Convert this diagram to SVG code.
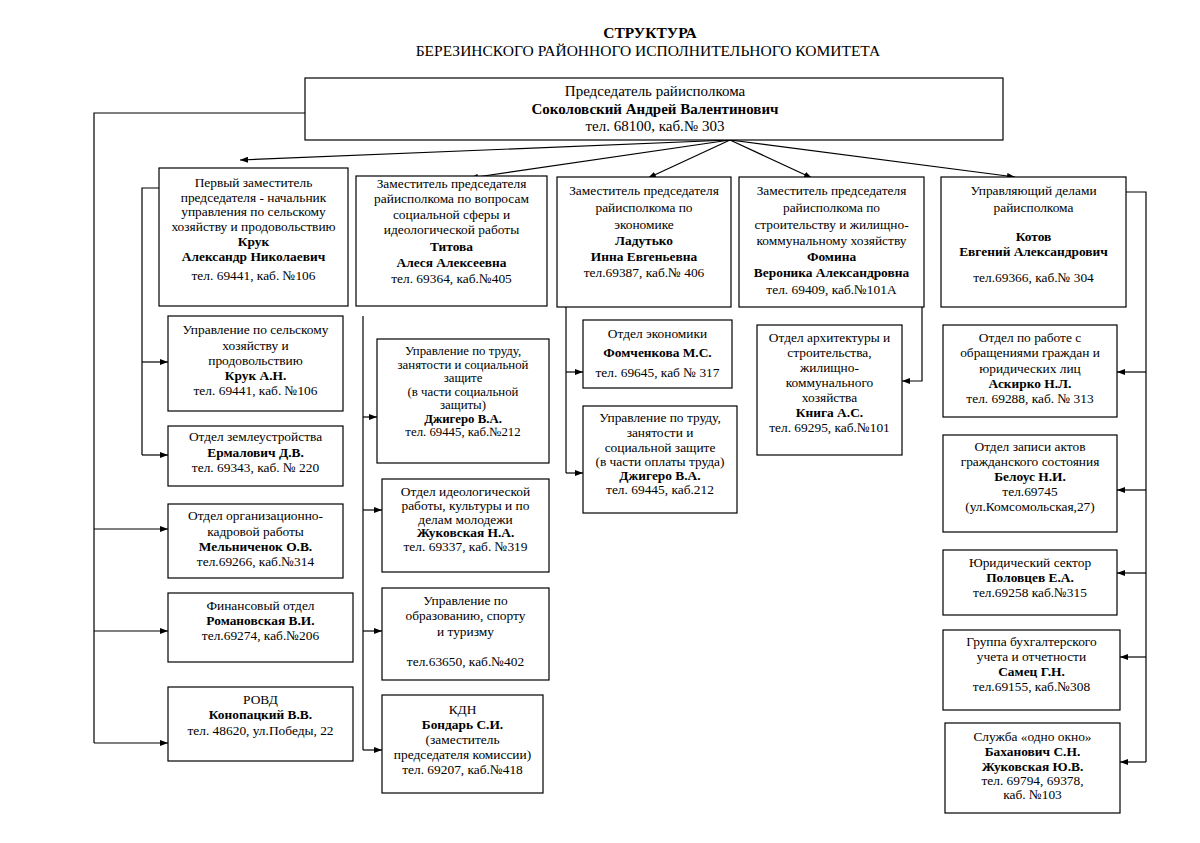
<svg xmlns="http://www.w3.org/2000/svg" width="1200" height="843" viewBox="0 0 1200 843">
<defs>
<marker id="ah" markerUnits="userSpaceOnUse" markerWidth="8" markerHeight="6" refX="8" refY="3" orient="auto">
<path d="M0,0 L8,3 L0,6 z" fill="#000"/>
</marker>
<style>
text{font-family:"Liberation Serif","Times New Roman",serif;font-size:13.4px;fill:#000;text-anchor:middle}
.b{font-weight:bold}
.h{font-size:15px}
.tt{font-size:15.5px}
.sm{font-size:12.8px}
rect{fill:#fff;stroke:#000;stroke-width:1.2}
.c line,.c polyline{stroke:#000;stroke-width:1.2;fill:none}
.a{marker-end:url(#ah)}
</style>
</defs>
<rect x="0" y="0" width="1200" height="843" style="stroke:none"/>
<g id="title">
<text x="650" y="38" class="b tt">СТРУКТУРА</text>
<text x="648" y="56" class="tt">БЕРЕЗИНСКОГО РАЙОННОГО ИСПОЛНИТЕЛЬНОГО КОМИТЕТА</text>
</g>
<g class="c" id="connectors">
<polyline points="305,113 94,113 94,743"/>
<line class="a" x1="94" y1="529" x2="168" y2="529"/>
<line class="a" x1="94" y1="631" x2="168" y2="631"/>
<line class="a" x1="94" y1="743" x2="168" y2="743"/>
<line class="a" x1="730" y1="140" x2="240" y2="160"/>
<line class="a" x1="730" y1="140" x2="470" y2="178"/>
<line class="a" x1="730" y1="140" x2="648" y2="178"/>
<line class="a" x1="730" y1="140" x2="812" y2="178"/>
<line class="a" x1="730" y1="140" x2="1015" y2="177"/>
<polyline points="159,188 142,188 142,455"/>
<line class="a" x1="142" y1="362" x2="168" y2="362"/>
<line class="a" x1="142" y1="455" x2="168" y2="455"/>
<line x1="363" y1="316" x2="363" y2="750"/>
<line class="a" x1="363" y1="417" x2="377" y2="417"/>
<line class="a" x1="363" y1="510" x2="382" y2="510"/>
<line class="a" x1="363" y1="631" x2="382" y2="631"/>
<line class="a" x1="363" y1="750" x2="382" y2="750"/>
<line x1="566" y1="307" x2="566" y2="473"/>
<line class="a" x1="566" y1="372" x2="583" y2="372"/>
<line class="a" x1="566" y1="473" x2="583" y2="473"/>
<polyline class="a" points="922,307 922,381 902,381"/>
<polyline points="1126,192 1146,192 1146,762"/>
<line class="a" x1="1146" y1="372" x2="1117" y2="372"/>
<line class="a" x1="1146" y1="490" x2="1117" y2="490"/>
<line class="a" x1="1146" y1="573" x2="1117" y2="573"/>
<line class="a" x1="1146" y1="657" x2="1120" y2="657"/>
<line class="a" x1="1146" y1="762" x2="1120" y2="762"/>
</g>
<g id="chair">
<rect x="305" y="78" width="698" height="62"/>
<text x="655" y="96" class="h">Председатель райисполкома</text>
<text x="655" y="114" class="b h">Соколовский Андрей Валентинович</text>
<text x="655" y="131" class="h">тел. 68100, каб.№ 303</text>
</g>
<g id="dep1">
<rect x="159" y="168" width="189" height="138"/>
<text x="253.5" y="187">Первый заместитель</text>
<text x="253.5" y="202">председателя -  начальник</text>
<text x="253.5" y="216">управления по  сельскому</text>
<text x="253.5" y="231">хозяйству и продовольствию</text>
<text x="253.5" y="246" class="b">Крук</text>
<text x="253.5" y="261" class="b">Александр Николаевич</text>
<text x="253.5" y="280">тел. 69441, каб. №106</text>
</g>
<g id="dep2">
<rect x="356" y="176" width="191" height="130"/>
<text x="451.5" y="188">Заместитель председателя</text>
<text x="451.5" y="203">райисполкома по вопросам</text>
<text x="451.5" y="219">социальной сферы и</text>
<text x="451.5" y="234">идеологической работы</text>
<text x="451.5" y="251" class="b">Титова</text>
<text x="451.5" y="267" class="b">Алеся Алексеевна</text>
<text x="451.5" y="283">тел. 69364, каб.№405</text>
</g>
<g id="dep3">
<rect x="557" y="177" width="174" height="130"/>
<text x="644" y="195">Заместитель председателя</text>
<text x="644" y="212">райисполкома по</text>
<text x="644" y="229">экономике</text>
<text x="644" y="245" class="b">Ладутько</text>
<text x="644" y="261" class="b">Инна Евгеньевна</text>
<text x="644" y="277">тел.69387, каб.№ 406</text>
</g>
<g id="dep4">
<rect x="739" y="177" width="185" height="130"/>
<text x="831.5" y="195">Заместитель председателя</text>
<text x="831.5" y="212">райисполкома по</text>
<text x="831.5" y="229">строительству и  жилищно-</text>
<text x="831.5" y="245">коммунальному хозяйству</text>
<text x="831.5" y="261" class="b">Фомина</text>
<text x="831.5" y="277" class="b">Вероника Александровна</text>
<text x="831.5" y="294">тел. 69409, каб.№101А</text>
</g>
<g id="dep5">
<rect x="941" y="177" width="185" height="130"/>
<text x="1033.5" y="195">Управляющий делами</text>
<text x="1033.5" y="212">райисполкома</text>
<text x="1033.5" y="241" class="b">Котов</text>
<text x="1033.5" y="256" class="b">Евгений Александрович</text>
<text x="1033.5" y="282">тел.69366, каб.№ 304</text>
</g>
<g id="l1">
<rect x="168" y="316" width="175" height="95"/>
<text x="255.5" y="334">Управление по сельскому</text>
<text x="255.5" y="350">хозяйству и</text>
<text x="255.5" y="365">продовольствию</text>
<text x="255.5" y="380" class="b">Крук А.Н.</text>
<text x="255.5" y="395">тел. 69441, каб. №106</text>
</g>
<g id="l2">
<rect x="168" y="426" width="175" height="60"/>
<text x="255.5" y="441">Отдел землеустройства</text>
<text x="255.5" y="457" class="b">Ермалович Д.В.</text>
<text x="255.5" y="472">тел. 69343, каб. № 220</text>
</g>
<g id="l3">
<rect x="168" y="504" width="175" height="74"/>
<text x="255.5" y="520">Отдел организационно-</text>
<text x="255.5" y="536">кадровой работы</text>
<text x="255.5" y="551" class="b">Мельниченок О.В.</text>
<text x="255.5" y="566">тел.69266, каб.№314</text>
</g>
<g id="l4">
<rect x="168" y="593" width="185" height="69"/>
<text x="260.5" y="610">Финансовый отдел</text>
<text x="260.5" y="625" class="b">Романовская В.И.</text>
<text x="260.5" y="640">тел.69274, каб.№206</text>
</g>
<g id="l5">
<rect x="168" y="687" width="185" height="74"/>
<text x="260.5" y="704">РОВД</text>
<text x="260.5" y="719" class="b">Конопацкий В.В.</text>
<text x="260.5" y="735">тел. 48620,  ул.Победы, 22</text>
</g>
<g id="s1">
<rect x="377" y="339" width="172" height="124"/>
<text x="463" y="355" class="sm">Управление по труду,</text>
<text x="463" y="368.5" class="sm">занятости и социальной</text>
<text x="463" y="382" class="sm">защите</text>
<text x="463" y="395.5" class="sm">(в части социальной</text>
<text x="463" y="409" class="sm">защиты)</text>
<text x="463" y="422.5" class="b sm">Джигеро В.А.</text>
<text x="463" y="436" class="sm">тел. 69445, каб.№212</text>
</g>
<g id="s2">
<rect x="382" y="479" width="167" height="93"/>
<text x="465.5" y="496">Отдел идеологической</text>
<text x="465.5" y="510">работы, культуры и по</text>
<text x="465.5" y="523.5">делам молодежи</text>
<text x="465.5" y="537" class="b">Жуковская Н.А.</text>
<text x="465.5" y="550.5">тел. 69337, каб. №319</text>
</g>
<g id="s3">
<rect x="382" y="588" width="167" height="92"/>
<text x="465.5" y="605">Управление по</text>
<text x="465.5" y="620">образованию, спорту</text>
<text x="465.5" y="636">и туризму</text>
<text x="465.5" y="666">тел.63650, каб.№402</text>
</g>
<g id="s4">
<rect x="382" y="695" width="161" height="98"/>
<text x="462.5" y="714">КДН</text>
<text x="462.5" y="729" class="b">Бондарь С.И.</text>
<text x="462.5" y="744">(заместитель</text>
<text x="462.5" y="759">председателя комиссии)</text>
<text x="462.5" y="774">тел. 69207, каб.№418</text>
</g>
<g id="e1">
<rect x="583" y="320" width="149" height="68"/>
<text x="657.5" y="338">Отдел экономики</text>
<text x="657.5" y="357" class="b">Фомченкова М.С.</text>
<text x="657.5" y="377">тел. 69645, каб № 317</text>
</g>
<g id="e2">
<rect x="583" y="406" width="154" height="107"/>
<text x="660" y="422">Управление по труду,</text>
<text x="660" y="437">занятости и</text>
<text x="660" y="452">социальной защите</text>
<text x="660" y="466">(в части оплаты труда)</text>
<text x="660" y="480" class="b">Джигеро В.А.</text>
<text x="660" y="494">тел. 69445, каб.212</text>
</g>
<g id="b1">
<rect x="757" y="325" width="145" height="130"/>
<text x="829.5" y="342">Отдел архитектуры и</text>
<text x="829.5" y="357">строительства,</text>
<text x="829.5" y="372">жилищно-</text>
<text x="829.5" y="387">коммунального</text>
<text x="829.5" y="402">хозяйства</text>
<text x="829.5" y="417" class="b">Книга А.С.</text>
<text x="829.5" y="432">тел. 69295, каб.№101</text>
</g>
<g id="r1">
<rect x="943" y="325" width="174" height="92"/>
<text x="1030" y="342">Отдел по работе с</text>
<text x="1030" y="357">обращениями граждан и</text>
<text x="1030" y="373">юридических лиц</text>
<text x="1030" y="388" class="b">Аскирко Н.Л.</text>
<text x="1030" y="403">тел. 69288, каб. № 313</text>
</g>
<g id="r2">
<rect x="943" y="435" width="174" height="97"/>
<text x="1030" y="451">Отдел записи актов</text>
<text x="1030" y="466">гражданского состояния</text>
<text x="1030" y="481" class="b">Белоус Н.И.</text>
<text x="1030" y="496">тел.69745</text>
<text x="1030" y="511">(ул.Комсомольская,27)</text>
</g>
<g id="r3">
<rect x="943" y="550" width="174" height="65"/>
<text x="1030" y="567">Юридический сектор</text>
<text x="1030" y="582" class="b">Половцев  Е.А.</text>
<text x="1030" y="597">тел.69258 каб.№315</text>
</g>
<g id="r4">
<rect x="943" y="630" width="177" height="80"/>
<text x="1031.5" y="646">Группа бухгалтерского</text>
<text x="1031.5" y="661">учета и отчетности</text>
<text x="1031.5" y="676" class="b">Самец Г.Н.</text>
<text x="1031.5" y="691">тел.69155, каб.№308</text>
</g>
<g id="r5">
<rect x="945" y="723" width="175" height="90"/>
<text x="1032.5" y="741">Служба «одно окно»</text>
<text x="1032.5" y="756" class="b">Баханович С.Н.</text>
<text x="1032.5" y="771" class="b">Жуковская Ю.В.</text>
<text x="1032.5" y="784.5">тел. 69794, 69378,</text>
<text x="1032.5" y="799">каб. №103</text>
</g>
</svg>
